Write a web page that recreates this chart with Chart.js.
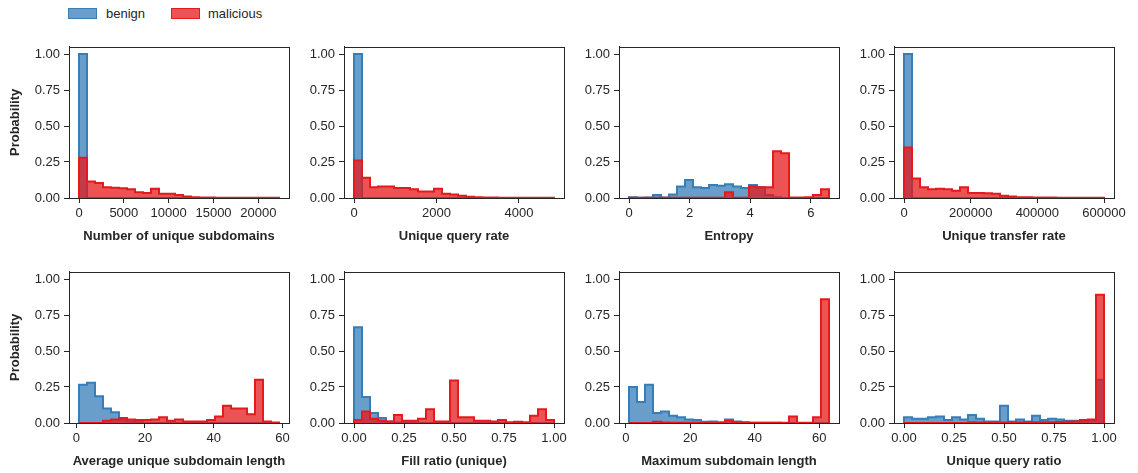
<!DOCTYPE html>
<html><head><meta charset="utf-8">
<script src="https://cdn.jsdelivr.net/npm/chart.js@4/dist/chart.umd.min.js"></script>
<style>
html,body{margin:0;padding:0;background:#fff;overflow:hidden;width:1138px;height:473px;}
#wrap{position:relative;width:1138px;height:473px;overflow:hidden;background:#fff;}
canvas{position:absolute;}
.lg{position:absolute;font:13px "Liberation Sans",Arial,sans-serif;color:#262626;line-height:15px;}
.box{position:absolute;box-sizing:border-box;width:29px;height:11px;border:1.5px solid;}
</style></head><body><div id="wrap">
<div class="box" style="left:68px;top:8px;background:rgba(55,126,184,0.75);border-color:#377eb8"></div>
<div class="lg" style="left:106px;top:6px">benign</div>
<div class="box" style="left:171px;top:8px;background:rgba(228,26,28,0.75);border-color:#e41a1c"></div>
<div class="lg" style="left:208px;top:6px">malicious</div>
</div>
<script>
// ---------- data ----------
const NBINS = 25;
const seriesNames = ['benign', 'malicious'];
const yTicks = [0, 0.25, 0.5, 0.75, 1.0];
const yLimits = [0, 1.05];
const yTitle = 'Probability';

const subdomainsTitle = 'Number of unique subdomains';
const subdomainsRange = [0, 22300];
const subdomainsTicks = [0, 5000, 10000, 15000, 20000];
const subdomainsBenign = [1.0,0,0,0,0,0,0,0,0,0,0,0,0,0,0,0,0,0,0,0,0,0,0,0,0];
const subdomainsMalicious = [0.28,0.115,0.105,0.075,0.072,0.068,0.06,0.04,0.035,0.065,0.03,0.03,0.02,0.01,0.005,0.003,0.003,0.002,0.002,0.001,0.001,0.001,0.001,0.001,0.001];

const queryRateTitle = 'Unique query rate';
const queryRateRange = [0, 4850];
const queryRateTicks = [0, 2000, 4000];
const queryRateBenign = [1.0,0,0,0,0,0,0,0,0,0,0,0,0,0,0,0,0,0,0,0,0,0,0,0,0];
const queryRateMalicious = [0.26,0.14,0.075,0.08,0.08,0.07,0.07,0.06,0.045,0.045,0.065,0.03,0.025,0.015,0.008,0.005,0.003,0.003,0.002,0.002,0.002,0.001,0.001,0.001,0.001];

const entropyTitle = 'Entropy';
const entropyRange = [0, 6.6];
const entropyTicks = [0, 2, 4, 6];
const entropyBenign = [0.005,0.002,0.003,0.02,0.003,0.025,0.08,0.125,0.075,0.07,0.09,0.085,0.095,0.08,0.07,0.09,0.075,0.02,0.005,0,0,0,0,0,0];
const entropyMalicious = [0.002,0.002,0.002,0.002,0.002,0.002,0.002,0.002,0.002,0.002,0.002,0.002,0.04,0.002,0.002,0.08,0.075,0.075,0.325,0.31,0.003,0.003,0.005,0.02,0.06];

const transferTitle = 'Unique transfer rate';
const transferRange = [0, 600000];
const transferTicks = [0, 200000, 400000, 600000];
const transferBenign = [1.0,0,0,0,0,0,0,0,0,0,0,0,0,0,0,0,0,0,0,0,0,0,0,0,0];
const transferMalicious = [0.35,0.135,0.075,0.06,0.065,0.06,0.05,0.075,0.035,0.035,0.033,0.03,0.015,0.01,0.006,0.005,0.004,0.003,0.003,0.002,0.002,0.002,0.002,0.001,0.001];

const avgLenTitle = 'Average unique subdomain length';
const avgLenRange = [0.8, 59];
const avgLenTicks = [0, 20, 40, 60];
const avgLenBenign = [0.265,0.28,0.185,0.1,0.075,0.02,0.01,0.005,0,0,0,0,0,0,0,0,0,0,0,0,0,0,0,0,0];
const avgLenMalicious = [0,0,0,0.015,0.025,0.035,0.025,0.02,0.02,0.025,0.04,0.015,0.025,0.01,0.01,0.01,0.02,0.045,0.12,0.1,0.1,0.06,0.3,0.01,0.003];

const fillTitle = 'Fill ratio (unique)';
const fillRange = [0, 1];
const fillTicks = [0, 0.25, 0.5, 0.75, 1.0];
const fillBenign = [0.665,0.18,0.07,0.035,0.01,0.003,0.002,0.001,0,0,0,0,0,0,0,0,0,0,0,0,0,0,0,0,0];
const fillMalicious = [0.02,0.08,0.03,0.015,0.01,0.055,0.015,0.015,0.03,0.095,0.01,0.01,0.295,0.04,0.04,0.015,0.015,0.01,0.02,0.005,0.008,0.005,0.05,0.095,0.02];

const maxLenTitle = 'Maximum subdomain length';
const maxLenRange = [1, 63];
const maxLenTicks = [0, 20, 40, 60];
const maxLenBenign = [0.25,0.145,0.265,0.07,0.08,0.05,0.04,0.025,0.02,0.008,0.01,0.005,0.025,0.01,0.005,0.002,0.002,0.001,0.001,0,0,0,0,0,0];
const maxLenMalicious = [0,0,0,0.008,0.003,0.002,0.002,0.002,0.002,0.002,0.002,0.002,0.015,0.005,0.003,0.002,0.002,0.002,0.002,0.002,0.045,0.002,0.002,0.04,0.86];

const ratioTitle = 'Unique query ratio';
const ratioRange = [0, 1];
const ratioTicks = [0, 0.25, 0.5, 0.75, 1.0];
const ratioBenign = [0.04,0.03,0.03,0.04,0.045,0.02,0.04,0.025,0.055,0.03,0.01,0.01,0.12,0.01,0.025,0.01,0.05,0.02,0.03,0.025,0.015,0.015,0.01,0.02,0.3];
const ratioMalicious = [0,0,0,0,0,0,0,0,0.005,0.004,0.003,0.003,0.003,0.004,0.004,0.005,0.005,0.006,0.006,0.007,0.008,0.01,0.02,0.025,0.89];

// ---------- panels ----------
const panels = [
  {title: subdomainsTitle, range: subdomainsRange, ticks: subdomainsTicks, dec: 0, b: subdomainsBenign, m: subdomainsMalicious},
  {title: queryRateTitle, range: queryRateRange, ticks: queryRateTicks, dec: 0, b: queryRateBenign, m: queryRateMalicious},
  {title: entropyTitle, range: entropyRange, ticks: entropyTicks, dec: 0, b: entropyBenign, m: entropyMalicious},
  {title: transferTitle, range: transferRange, ticks: transferTicks, dec: 0, b: transferBenign, m: transferMalicious},
  {title: avgLenTitle, range: avgLenRange, ticks: avgLenTicks, dec: 0, b: avgLenBenign, m: avgLenMalicious},
  {title: fillTitle, range: fillRange, ticks: fillTicks, dec: 2, b: fillBenign, m: fillMalicious},
  {title: maxLenTitle, range: maxLenRange, ticks: maxLenTicks, dec: 0, b: maxLenBenign, m: maxLenMalicious},
  {title: ratioTitle, range: ratioRange, ticks: ratioTicks, dec: 2, b: ratioBenign, m: ratioMalicious}
];

const colLeft = [69, 344, 619, 894];
const rowTop = [45, 270];
const AXW = 220, AXH = 153;
const PADL = 70, PADT = 10, PADR = 35, PADB = 50;
const INK = '#262626';
const FONT = 'Liberation Sans, Arial, sans-serif';

const framePlugin = {
  id: 'frame',
  afterDatasetsDraw(chart) {
    const a = chart.chartArea, ctx = chart.ctx;
    ctx.save();
    ctx.strokeStyle = INK;
    ctx.lineWidth = 1;
    ctx.strokeRect(Math.round(a.left) + 0.5, Math.round(a.top) + 0.5, Math.round(a.right - a.left), Math.round(a.bottom - a.top));
    ctx.restore();
  }
};

function histPoints(range, vals) {
  const w = (range[1] - range[0]) / NBINS;
  const pts = [{x: range[0], y: 0}];
  vals.forEach((v, k) => pts.push({x: range[0] + k * w, y: v}));
  pts.push({x: range[1], y: vals[vals.length - 1]});
  pts.push({x: range[1], y: 0});
  return pts;
}

const wrap = document.getElementById('wrap');
panels.forEach((p, i) => {
  const col = i % 4, row = Math.floor(i / 4);
  const cv = document.createElement('canvas');
  cv.width = PADL + AXW + PADR;
  cv.height = PADT + AXH + PADB;
  cv.style.left = (colLeft[col] - PADL) + 'px';
  cv.style.top = (rowTop[row] - PADT) + 'px';
  wrap.appendChild(cv);
  const span = p.range[1] - p.range[0];
  const common = (color, fill, data, order, label) => ({
    label, data, borderColor: color, backgroundColor: fill, borderWidth: 2,
    fill: 'origin', stepped: true, pointRadius: 0, tension: 0, order,
    borderJoinStyle: 'miter', borderCapStyle: 'butt'
  });
  new Chart(cv, {
    type: 'line',
    data: {datasets: [
      common('#377eb8', 'rgba(55,126,184,0.75)', histPoints(p.range, p.b), 1, seriesNames[0]),
      common('#e41a1c', 'rgba(228,26,28,0.75)', histPoints(p.range, p.m), 0, seriesNames[1])
    ]},
    options: {
      responsive: false, animation: false, events: [],
      layout: {padding: {left: 0, top: PADT, right: PADR, bottom: 0}},
      plugins: {legend: {display: false}, tooltip: {enabled: false}},
      scales: {
        x: {
          type: 'linear', min: p.range[0] - 0.05 * span, max: p.range[1] + 0.05 * span,
          afterBuildTicks: s => { s.ticks = p.ticks.map(v => ({value: v})); },
          afterFit: s => { s.height = PADB; },
          ticks: {font: {family: FONT, size: 13}, color: INK, padding: 3, maxRotation: 0, autoSkip: false,
                  callback: v => Number(v).toFixed(p.dec)},
          grid: {display: true, drawOnChartArea: false, drawTicks: true, tickLength: 5, color: INK},
          border: {display: true, color: INK},
          title: {display: true, text: p.title, color: INK, font: {family: FONT, size: 13, weight: 'bold'}, padding: {top: 0, bottom: 4}}
        },
        y: {
          type: 'linear', min: yLimits[0], max: yLimits[1],
          afterBuildTicks: s => { s.ticks = yTicks.map(v => ({value: v})); },
          afterFit: s => { s.width = PADL; },
          ticks: {font: {family: FONT, size: 13}, color: INK, padding: 4, callback: v => Number(v).toFixed(2)},
          grid: {display: true, drawOnChartArea: false, drawTicks: true, tickLength: 5, color: INK},
          border: {display: true, color: INK},
          title: {display: col === 0, text: yTitle, color: INK, font: {family: FONT, size: 13, weight: 'bold'}, padding: {top: 9, bottom: 0}}
        }
      }
    },
    plugins: [framePlugin]
  });
});
</script>
</body></html>
